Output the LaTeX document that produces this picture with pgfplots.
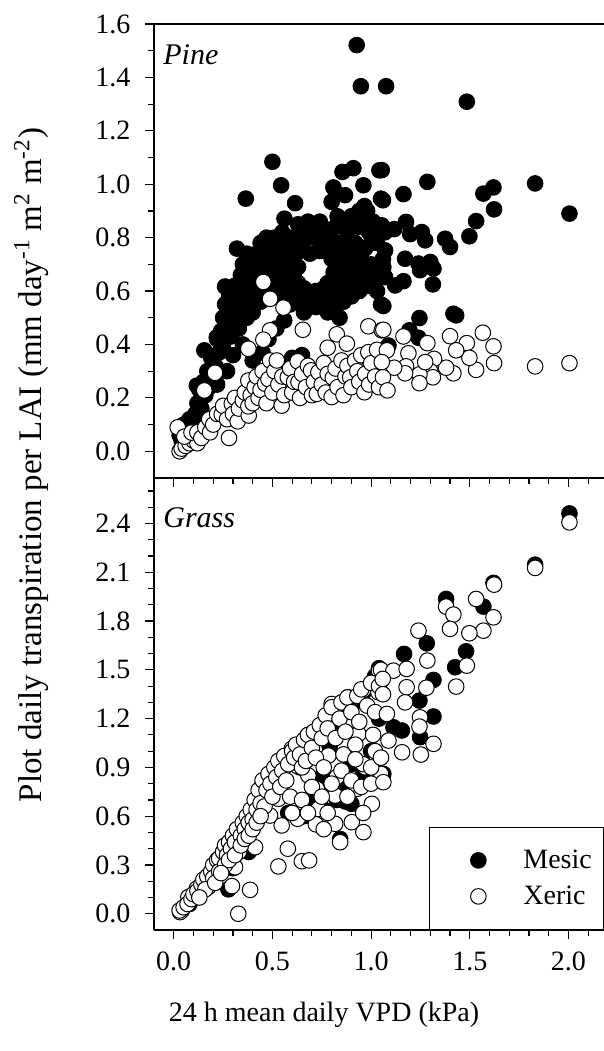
\documentclass[border=0pt]{standalone}
\usepackage{fontspec}
\setmainfont{Liberation Serif}
\usepackage{pgfplots}
\pgfplotsset{compat=1.18}
\pgfplotsset{
  common/.style={
    scale only axis, width=225pt,
    xmin=-0.1, xmax=2.18,
    axis x line*=bottom, axis y line*=left,
    axis line style={-, line width=0.6pt, black},
    tick align=outside,
    major tick length=4.5pt, minor tick length=3pt,
    every tick/.style={line width=0.6pt, black},
    xtick={0,0.5,1.0,1.5,2.0},
    minor xtick={0.1,0.2,0.3,0.4,0.6,0.7,0.8,0.9,1.1,1.2,1.3,1.4,1.6,1.7,1.8,1.9,2.1},
    tick label style={font=\fontsize{14}{16}\selectfont},
    xticklabel style={yshift=-3pt},
    yticklabel style={xshift=-3.8pt},
    /pgf/number format/fixed,
    /pgf/number format/fixed zerofill,
    /pgf/number format/precision=1,
    /pgf/number format/assume math mode=true,
  },
  mesic/.style={only marks, mark=*, mark size=3.9pt, mark options={fill=black, draw=black, line width=0.5pt}},
  xeric/.style={only marks, mark=*, mark size=3.9pt, mark options={fill=white, draw=black, line width=0.5pt}},
}
\begin{document}
\begin{tikzpicture}
\begin{axis}[common, at={(77pt,286.5pt)}, anchor=south west, height=227pt,
  ymin=-0.1, ymax=1.6,
  ytick={0,0.2,0.4,0.6,0.8,1.0,1.2,1.4,1.6},
  minor ytick={0.1,0.3,0.5,0.7,0.9,1.1,1.3,1.5},
  xticklabel=\empty]
\addplot[mesic] coordinates {
(0.03,0.06)(0.05,0.10)(0.07,0.08)(0.08,0.12)(0.10,0.10)(0.04,0.04)(0.11,0.14)(0.12,0.18)(0.13,0.23)(0.14,0.16)
(0.15,0.26)(0.16,0.21)(0.17,0.30)(0.18,0.24)(0.155,0.378)(0.19,0.35)(0.20,0.28)(0.21,0.32)(0.218,0.427)(0.22,0.42)
(0.23,0.37)(0.24,0.45)(0.22,0.25)(0.117,0.246)(0.25,0.40)(0.25,0.50)(0.26,0.55)(0.26,0.617)(0.27,0.47)(0.28,0.52)
(0.28,0.58)(0.29,0.43)(0.30,0.49)(0.30,0.56)(0.31,0.62)(0.32,0.759)(0.32,0.53)(0.33,0.60)(0.33,0.46)(0.34,0.66)
(0.35,0.55)(0.35,0.70)(0.36,0.62)(0.365,0.946)(0.37,0.50)(0.37,0.74)(0.38,0.58)(0.39,0.67)(0.40,0.52)(0.41,0.737)
(0.41,0.60)(0.42,0.70)(0.43,0.64)(0.44,0.78)(0.44,0.56)(0.45,0.72)(0.46,0.66)(0.47,0.60)(0.48,0.76)(0.49,0.70)
(0.50,0.64)(0.50,1.084)(0.51,0.80)(0.52,0.74)(0.53,0.58)(0.54,0.68)(0.544,0.996)(0.55,0.82)(0.561,0.871)(0.56,0.62)
(0.57,0.76)(0.58,0.70)(0.59,0.55)(0.60,0.80)(0.61,0.65)(0.615,0.929)(0.62,0.74)(0.63,0.85)(0.64,0.58)(0.63,0.69)
(0.66,0.79)(0.66,0.61)(0.68,0.86)(0.69,0.74)(0.70,0.58)(0.71,0.80)(0.72,0.60)(0.74,0.75)(0.74,0.86)(0.81,0.67)
(0.76,0.78)(0.77,0.58)(0.78,0.63)(0.79,0.83)(0.80,0.934)(0.80,0.72)(0.809,0.988)(0.81,0.60)(0.82,0.78)(0.83,0.55)
(0.83,0.88)(0.84,0.50)(0.84,0.68)(0.855,1.046)(0.86,0.74)(0.868,0.959)(0.87,0.62)(0.88,0.82)(0.89,0.70)(0.90,0.88)
(0.91,1.06)(0.91,0.64)(0.92,0.78)(0.93,0.72)(0.94,0.84)(0.95,0.68)(0.961,0.996)(0.966,0.918)(0.97,0.76)(0.98,0.62)
(0.99,0.82)(1.00,0.70)(1.01,0.86)(1.02,0.66)(1.03,0.78)(1.042,1.052)(1.05,0.946)(1.05,0.55)(1.06,0.72)(1.07,0.82)
(0.52,0.62)(0.55,0.57)(0.58,0.60)(0.62,0.56)(0.68,0.55)(0.74,0.56)(0.86,0.56)(0.90,0.58)(0.94,0.60)(0.97,0.66)
(1.00,0.62)(1.03,0.60)(1.04,0.70)(0.92,0.68)(0.88,0.64)(0.85,0.62)(0.79,0.56)(0.76,0.61)(0.63,0.63)(0.60,0.70)
(0.57,0.66)(0.54,0.72)(0.50,0.76)(0.47,0.70)(0.45,0.62)(0.42,0.57)(0.38,0.63)(0.36,0.68)(0.40,0.72)(0.43,0.74)
(0.47,0.80)(0.53,0.78)(0.58,0.80)(0.64,0.77)(0.67,0.83)(0.72,0.83)(0.77,0.82)(0.82,0.84)(0.86,0.86)(0.96,0.86)
(1.00,0.78)(0.98,0.90)(0.94,0.90)(0.85,0.78)(0.90,0.76)(0.95,0.74)(0.78,0.75)(0.83,0.72)(0.87,0.69)
(0.40,0.34)(0.45,0.37)(0.48,0.42)(0.60,0.35)(0.65,0.36)(0.52,0.46)(0.56,0.49)(0.66,0.52)(0.72,0.54)(0.78,0.52)
(0.35,0.40)(0.30,0.36)(0.27,0.30)
(0.927,1.521)(0.948,1.367)(1.076,1.367)(1.485,1.309)
(1.054,1.053)(1.285,1.009)(1.164,0.963)(1.06,0.94)(1.831,1.003)(1.569,0.965)(1.62,0.988)(1.623,0.906)(1.532,0.862)(1.498,0.805)
(2.005,0.89)(1.054,0.846)(1.117,0.832)(1.177,0.859)(1.198,0.813)(1.257,0.821)(1.274,0.79)(1.375,0.796)(1.40,0.765)(1.071,0.752)
(1.172,0.721)(1.24,0.703)(1.30,0.709)(1.316,0.684)(1.248,0.678)(1.062,0.69)(1.071,0.652)(1.122,0.621)(1.164,0.637)(1.313,0.625)
(1.062,0.544)(1.245,0.499)(1.417,0.515)(1.431,0.509)(1.194,0.453)(1.24,0.425)(1.088,0.396)
};
\addplot[xeric] coordinates {
(0.03,0.00)(0.04,0.01)(0.06,0.02)(0.08,0.03)(0.10,0.04)(0.12,0.03)(0.05,0.06)(0.02,0.09)(0.054,0.055)(0.09,0.07)
(0.12,0.071)(0.14,0.05)(0.16,0.09)(0.184,0.071)(0.18,0.12)(0.20,0.10)(0.22,0.14)(0.243,0.138)(0.25,0.17)(0.28,0.05)
(0.27,0.12)(0.294,0.178)(0.30,0.14)(0.31,0.20)(0.324,0.112)(0.33,0.16)(0.35,0.19)(0.36,0.22)(0.38,0.134)(0.378,0.168)
(0.378,0.265)(0.39,0.21)(0.40,0.18)(0.41,0.24)(0.42,0.28)(0.43,0.20)(0.44,0.23)(0.45,0.30)(0.463,0.253)(0.47,0.18)
(0.48,0.27)(0.488,0.34)(0.50,0.22)(0.51,0.30)(0.522,0.34)(0.53,0.25)(0.547,0.171)(0.55,0.28)(0.56,0.21)(0.578,0.277)
(0.59,0.31)(0.60,0.22)(0.61,0.26)(0.628,0.337)(0.632,0.259)(0.64,0.20)(0.65,0.29)(0.67,0.24)(0.68,0.32)(0.696,0.303)
(0.70,0.21)(0.71,0.26)(0.725,0.215)(0.733,0.296)(0.75,0.25)(0.76,0.33)(0.77,0.22)(0.78,0.29)(0.80,0.203)(0.806,0.275)
(0.82,0.31)(0.83,0.24)(0.85,0.34)(0.86,0.21)(0.87,0.28)(0.88,0.32)(0.894,0.277)(0.90,0.24)(0.919,0.34)(0.93,0.30)
(0.94,0.26)(0.95,0.36)(0.966,0.221)(0.97,0.29)(0.986,0.371)(0.99,0.25)(1.00,0.33)(1.02,0.28)(1.03,0.38)(1.04,0.24)
(0.454,0.634)(0.488,0.571)(0.556,0.538)(0.654,0.455)(0.488,0.453)(0.454,0.418)(0.378,0.384)(0.209,0.294)(0.155,0.228)(0.826,0.438)
(0.78,0.388)(0.877,0.403)(0.986,0.468)(1.054,0.453)
(1.062,0.455)(1.164,0.43)(1.285,0.405)(1.40,0.431)(1.485,0.405)(1.566,0.444)(1.62,0.393)(1.623,0.33)(1.532,0.305)(1.498,0.35)
(1.431,0.378)(1.417,0.292)(1.38,0.313)(1.319,0.346)(1.30,0.30)(1.313,0.277)(1.245,0.288)(1.245,0.255)(1.274,0.334)(1.189,0.367)
(1.177,0.318)(1.172,0.292)(1.117,0.313)(1.08,0.378)(1.054,0.334)(1.06,0.277)(1.083,0.228)(1.831,0.318)(2.005,0.33)
};
\draw[line width=0.6pt] (rel axis cs:0,1) -- (rel axis cs:1,1);
\node[anchor=west, inner sep=0pt, font=\itshape\fontsize{15}{18}\selectfont] at (rel axis cs:0.02,0.932) {Pine};
\end{axis}
\begin{axis}[common, at={(77pt,60.5pt)}, anchor=south west, height=226pt,
  ymin=-0.1, ymax=2.68,
  ytick={0,0.3,0.6,0.9,1.2,1.5,1.8,2.1,2.4},
  minor ytick={0.1,0.2,0.4,0.5,0.7,0.8,1.0,1.1,1.3,1.4,1.6,1.7,1.9,2.0,2.2,2.3,2.5,2.6},
  legend cell align=left,
  legend image code/.code={\path[draw=none, fill=none] (-24.5pt,-9pt) rectangle (22.5pt,9pt); \draw[#1] plot coordinates {(0pt,0pt)};},
  legend style={at={(rel axis cs:1,0)}, anchor=south east, draw=black, line width=0.6pt,
    inner xsep=0pt, inner ysep=7.5pt, row sep=0pt, column sep=0pt,
    font=\fontsize{14}{16}\selectfont, nodes={inner sep=0pt, draw=none},
    /tikz/every even column/.append style={text width=40pt}}]
\addplot[mesic] coordinates {
(2.005,2.462)(1.831,2.147)(1.62,2.035)(1.569,1.889)(1.38,1.936)(1.481,1.614)(1.426,1.516)(1.282,1.663)(1.316,1.438)(1.167,1.598)
(1.245,1.311)(1.316,1.213)(1.248,1.086)(1.156,1.127)(1.113,1.147)(1.062,0.86)(0.843,0.46)(0.826,0.70)(0.90,0.676)(0.87,0.69)
(0.75,0.84)(0.79,1.03)(0.277,0.15)(1.04,1.51)(0.45,0.80)(0.62,1.00)(0.66,0.95)(0.58,0.62)(0.38,0.38)(0.30,0.28)
(0.04,0.02)(0.08,0.06)(0.12,0.12)(0.16,0.18)(0.20,0.26)(0.24,0.33)(0.28,0.40)(0.32,0.48)(0.36,0.55)(0.40,0.62)
(0.44,0.70)(0.48,0.76)(0.52,0.82)(0.56,0.90)(0.60,0.96)(0.64,0.90)(0.68,1.00)(0.72,1.08)(0.76,1.14)(0.80,1.20)
(0.84,1.18)(0.88,1.26)(0.92,1.30)(0.96,1.36)(1.00,1.40)(1.02,1.46)(0.70,0.70)(0.80,0.78)(0.90,0.92)(1.00,1.00)
(0.66,0.60)(0.76,0.64)(0.86,0.80)(0.96,0.86)(1.04,1.20)
};
\addlegendentry{Mesic}
\addplot[xeric] coordinates {
(0.032,0.01)(0.327,0.0)(0.387,0.147)(0.175,0.164)(0.117,0.154)(0.074,0.102)(0.243,0.328)(0.311,0.286)(0.319,0.45)(0.378,0.512)
(0.412,0.409)(0.429,0.615)(0.454,0.819)(0.488,0.604)(0.53,0.707)(0.522,0.789)(0.547,0.543)(0.578,0.40)(0.53,0.291)(0.649,0.323)
(0.686,0.328)(0.628,0.584)(0.598,1.014)(0.623,0.911)(0.682,0.85)(0.674,1.085)(0.733,1.137)(0.784,0.973)(0.725,0.768)(0.733,0.645)
(0.80,1.29)(0.818,1.229)(0.882,1.331)(0.89,1.188)(0.936,1.106)(0.961,1.377)(1.04,1.495)(1.037,1.362)(0.826,0.84)(0.818,0.727)
(0.843,0.44)(0.818,0.553)(0.902,0.563)(0.961,0.502)(1.004,0.676)(0.928,0.768)(0.97,0.901)(1.029,0.963)(1.037,0.83)
(0.03,0.02)(0.05,0.04)(0.07,0.06)(0.09,0.09)(0.10,0.12)(0.12,0.14)(0.14,0.18)(0.15,0.21)(0.17,0.23)(0.19,0.26)
(0.20,0.30)(0.22,0.33)(0.23,0.34)(0.25,0.38)(0.26,0.42)(0.27,0.36)(0.28,0.44)(0.29,0.40)(0.30,0.48)(0.31,0.44)
(0.32,0.52)(0.33,0.38)(0.34,0.48)(0.35,0.56)(0.36,0.52)(0.37,0.60)(0.38,0.56)(0.39,0.64)(0.40,0.58)(0.41,0.70)
(0.42,0.64)(0.43,0.76)(0.44,0.68)(0.45,0.82)(0.46,0.66)(0.47,0.76)(0.48,0.86)(0.49,0.80)(0.50,0.72)(0.51,0.90)
(0.52,0.84)(0.53,0.94)(0.54,0.78)(0.55,0.88)(0.56,0.97)(0.57,0.82)(0.58,0.92)(0.59,0.72)(0.60,1.00)(0.61,0.96)
(0.62,1.04)(0.64,0.98)(0.65,0.90)(0.66,1.07)(0.67,0.94)(0.68,1.10)(0.70,1.02)(0.71,1.12)(0.72,0.96)(0.74,1.16)
(0.75,1.08)(0.76,0.90)(0.77,1.22)(0.78,1.14)(0.80,1.27)(0.82,1.08)(0.84,1.20)(0.85,1.30)(0.86,0.98)(0.87,1.12)
(0.88,1.33)(0.90,1.24)(0.92,1.04)(0.93,1.34)(0.94,1.18)(0.95,1.38)(0.96,0.92)(0.98,1.28)(1.00,1.42)(1.01,1.10)
(1.02,1.24)(1.04,1.40)(1.05,0.86)(1.05,1.50)
(0.20,0.22)(0.23,0.26)(0.26,0.30)(0.28,0.33)(0.31,0.36)(0.34,0.42)(0.36,0.46)(0.38,0.48)(0.40,0.52)(0.42,0.56)
(0.44,0.60)(0.16,0.15)(0.13,0.10)(0.21,0.19)(0.24,0.25)
(0.60,0.62)(0.65,0.70)(0.70,0.78)(0.75,0.72)(0.80,0.80)(0.85,0.88)(0.90,0.82)(0.95,0.78)(1.00,0.90)(1.02,1.0)
(0.92,0.95)(0.88,0.72)(0.78,0.62)(0.72,0.55)(0.68,0.62)(0.76,0.52)(0.96,0.62)(1.0,0.80)(0.295,0.17)
(2.005,2.407)(1.831,2.127)(1.623,2.024)(1.532,1.936)(1.62,1.823)(1.569,1.741)(1.498,1.725)(1.38,1.889)(1.417,1.84)(1.40,1.752)
(1.485,1.526)(1.431,1.397)(1.24,1.741)(1.285,1.557)(1.28,1.39)(1.113,1.495)(1.18,1.506)(1.059,1.444)(1.18,1.393)(1.172,1.30)
(1.06,1.35)(1.248,1.208)(1.245,1.151)(1.316,1.045)(1.252,0.979)(1.157,0.993)(1.088,1.065)(1.08,1.229)(1.062,0.809)(1.05,0.96)
};
\addlegendentry{Xeric}
\node[anchor=west, inner sep=0pt, font=\itshape\fontsize{15}{18}\selectfont] at (rel axis cs:0.02,0.9115) {Grass};
\end{axis}
\node[rotate=90, font=\fontsize{16.5}{19}\selectfont] at (15.75pt,293pt)
  {Plot daily transpiration per LAI (mm day\textsuperscript{-1} m\textsuperscript{2} m\textsuperscript{-2})};
\node[font=\fontsize{14}{16}\selectfont] at (162pt,18pt) {24 h mean daily VPD (kPa)};
\pgfresetboundingbox
\useasboundingbox (0,0) rectangle (302pt,525.5pt);
\end{tikzpicture}
\end{document}
